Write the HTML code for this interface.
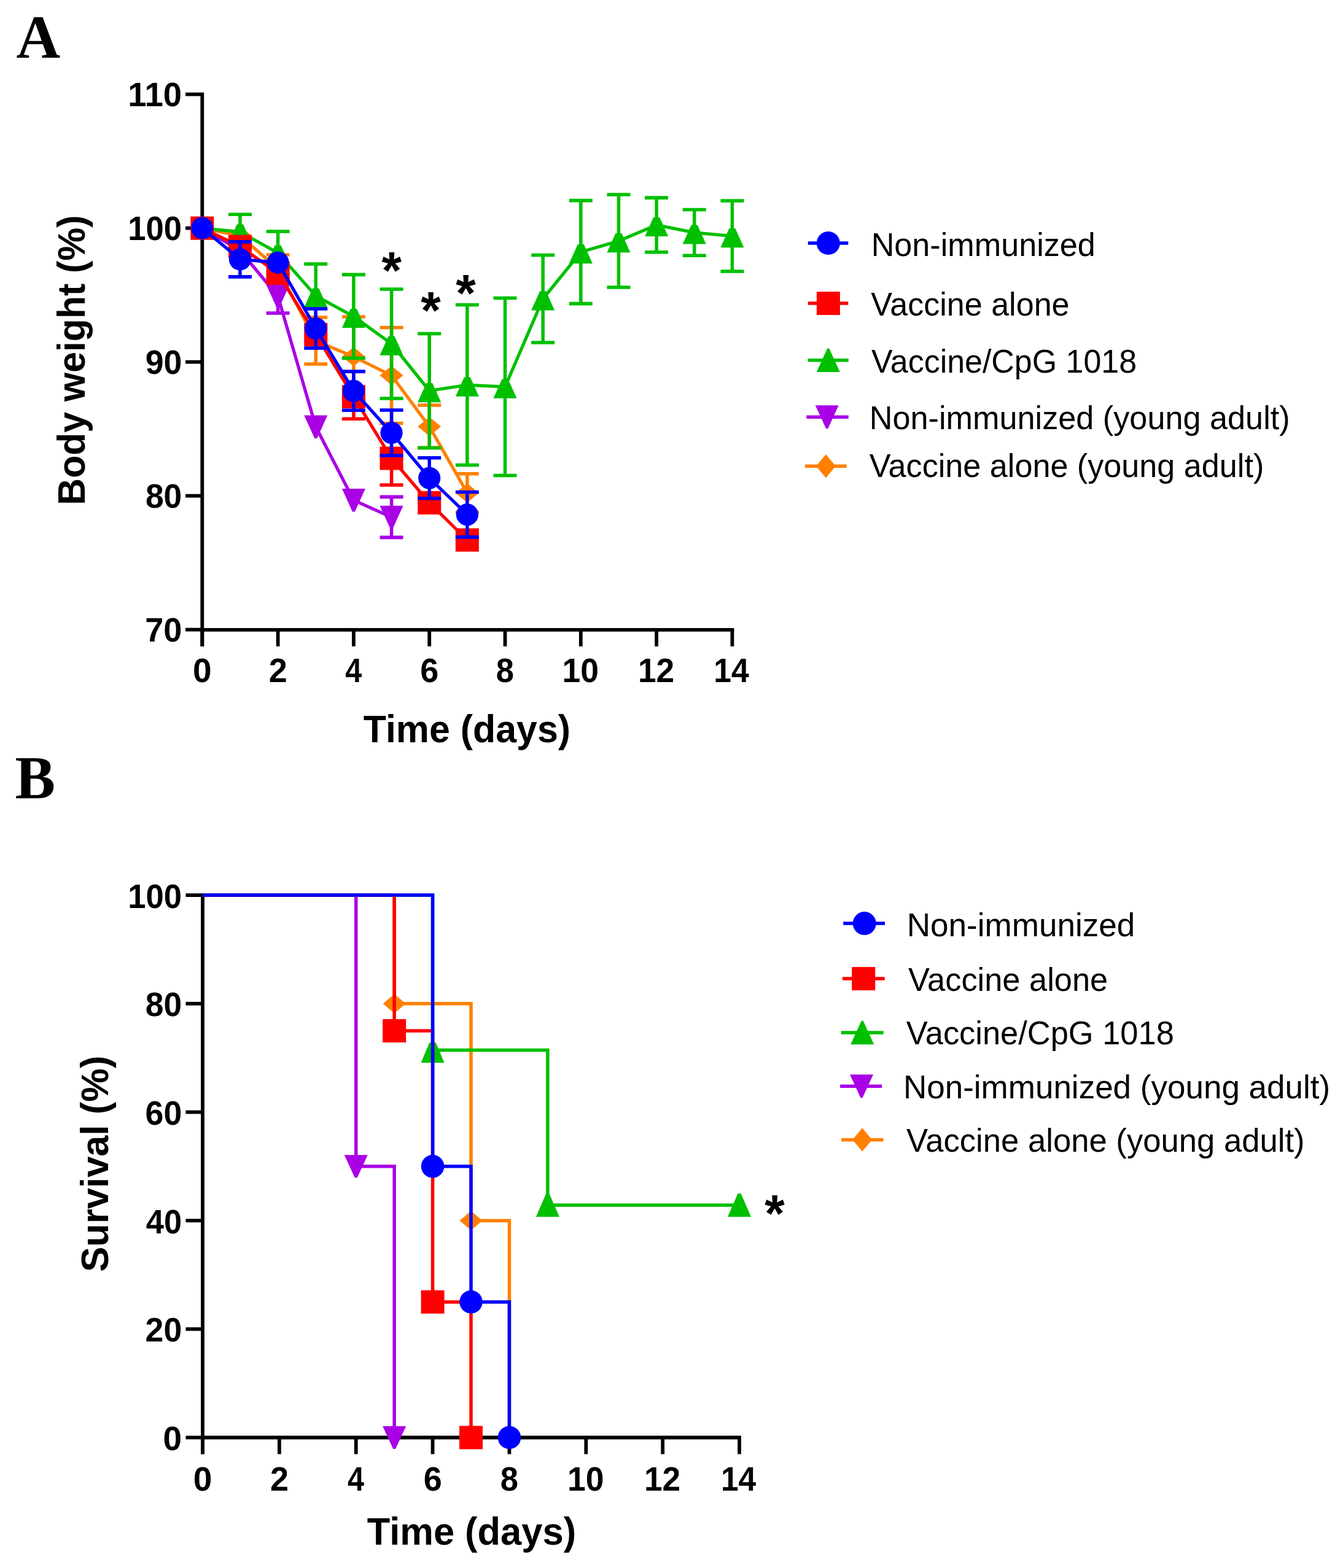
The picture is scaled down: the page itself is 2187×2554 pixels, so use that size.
<!DOCTYPE html>
<html><head><meta charset="utf-8"><title>Figure</title>
<style>html,body{margin:0;padding:0;background:#fff;overflow:hidden;} svg{display:block;}</style>
</head><body>
<svg width="2187" height="2554" viewBox="0 0 2187 2554">
<rect x="0" y="0" width="2187" height="2554" fill="#FFFFFF"/>
<text x="26.51" y="93.60" font-family='"Liberation Serif", "Times New Roman", serif' font-weight="bold" font-size="100" fill="#000" textLength="71.60" lengthAdjust="spacingAndGlyphs">A</text>
<text x="24.48" y="1299.50" font-family='"Liberation Serif", "Times New Roman", serif' font-weight="bold" font-size="100" fill="#000" textLength="65.57" lengthAdjust="spacingAndGlyphs">B</text>
<line x1="329.30" y1="150.70" x2="329.30" y2="1052.80" stroke="#000" stroke-width="5.8" stroke-linecap="butt"/>
<line x1="326.40" y1="1025.80" x2="1195.30" y2="1025.80" stroke="#000" stroke-width="5.8" stroke-linecap="butt"/>
<line x1="302.00" y1="153.60" x2="329.30" y2="153.60" stroke="#000" stroke-width="5.8" stroke-linecap="butt"/>
<line x1="302.00" y1="371.60" x2="329.30" y2="371.60" stroke="#000" stroke-width="5.8" stroke-linecap="butt"/>
<line x1="302.00" y1="589.60" x2="329.30" y2="589.60" stroke="#000" stroke-width="5.8" stroke-linecap="butt"/>
<line x1="302.00" y1="807.60" x2="329.30" y2="807.60" stroke="#000" stroke-width="5.8" stroke-linecap="butt"/>
<line x1="302.00" y1="1025.60" x2="329.30" y2="1025.60" stroke="#000" stroke-width="5.8" stroke-linecap="butt"/>
<line x1="329.30" y1="1025.80" x2="329.30" y2="1052.80" stroke="#000" stroke-width="5.8" stroke-linecap="butt"/>
<line x1="452.60" y1="1025.80" x2="452.60" y2="1052.80" stroke="#000" stroke-width="5.8" stroke-linecap="butt"/>
<line x1="575.90" y1="1025.80" x2="575.90" y2="1052.80" stroke="#000" stroke-width="5.8" stroke-linecap="butt"/>
<line x1="699.20" y1="1025.80" x2="699.20" y2="1052.80" stroke="#000" stroke-width="5.8" stroke-linecap="butt"/>
<line x1="822.50" y1="1025.80" x2="822.50" y2="1052.80" stroke="#000" stroke-width="5.8" stroke-linecap="butt"/>
<line x1="945.80" y1="1025.80" x2="945.80" y2="1052.80" stroke="#000" stroke-width="5.8" stroke-linecap="butt"/>
<line x1="1069.10" y1="1025.80" x2="1069.10" y2="1052.80" stroke="#000" stroke-width="5.8" stroke-linecap="butt"/>
<line x1="1192.40" y1="1025.80" x2="1192.40" y2="1052.80" stroke="#000" stroke-width="5.8" stroke-linecap="butt"/>
<text x="208.16" y="172.73" font-family='"Liberation Sans", Arial, Helvetica, sans-serif' font-weight="bold" font-size="55.5" fill="#000" textLength="87.99" lengthAdjust="spacingAndGlyphs">110</text>
<text x="208.28" y="390.73" font-family='"Liberation Sans", Arial, Helvetica, sans-serif' font-weight="bold" font-size="55.5" fill="#000" textLength="87.85" lengthAdjust="spacingAndGlyphs">100</text>
<text x="236.67" y="608.73" font-family='"Liberation Sans", Arial, Helvetica, sans-serif' font-weight="bold" font-size="55.5" fill="#000" textLength="59.63" lengthAdjust="spacingAndGlyphs">90</text>
<text x="236.92" y="826.73" font-family='"Liberation Sans", Arial, Helvetica, sans-serif' font-weight="bold" font-size="55.5" fill="#000" textLength="59.37" lengthAdjust="spacingAndGlyphs">80</text>
<text x="236.16" y="1044.72" font-family='"Liberation Sans", Arial, Helvetica, sans-serif' font-weight="bold" font-size="55.5" fill="#000" textLength="60.16" lengthAdjust="spacingAndGlyphs">70</text>
<text x="314.07" y="1110.50" font-family='"Liberation Sans", Arial, Helvetica, sans-serif' font-weight="bold" font-size="55.5" fill="#000" textLength="30.57" lengthAdjust="spacingAndGlyphs">0</text>
<text x="437.66" y="1110.50" font-family='"Liberation Sans", Arial, Helvetica, sans-serif' font-weight="bold" font-size="55.5" fill="#000" textLength="30.00" lengthAdjust="spacingAndGlyphs">2</text>
<text x="562.24" y="1110.50" font-family='"Liberation Sans", Arial, Helvetica, sans-serif' font-weight="bold" font-size="55.5" fill="#000" textLength="26.98" lengthAdjust="spacingAndGlyphs">4</text>
<text x="684.26" y="1110.50" font-family='"Liberation Sans", Arial, Helvetica, sans-serif' font-weight="bold" font-size="55.5" fill="#000" textLength="30.00" lengthAdjust="spacingAndGlyphs">6</text>
<text x="807.85" y="1110.50" font-family='"Liberation Sans", Arial, Helvetica, sans-serif' font-weight="bold" font-size="55.5" fill="#000" textLength="29.18" lengthAdjust="spacingAndGlyphs">8</text>
<text x="915.58" y="1110.50" font-family='"Liberation Sans", Arial, Helvetica, sans-serif' font-weight="bold" font-size="55.5" fill="#000" textLength="59.46" lengthAdjust="spacingAndGlyphs">10</text>
<text x="1038.89" y="1110.50" font-family='"Liberation Sans", Arial, Helvetica, sans-serif' font-weight="bold" font-size="55.5" fill="#000" textLength="59.20" lengthAdjust="spacingAndGlyphs">12</text>
<text x="1162.30" y="1110.50" font-family='"Liberation Sans", Arial, Helvetica, sans-serif' font-weight="bold" font-size="55.5" fill="#000" textLength="57.40" lengthAdjust="spacingAndGlyphs">14</text>
<text x="591.87" y="1208.80" font-family='"Liberation Sans", Arial, Helvetica, sans-serif' font-weight="bold" font-size="62.5" fill="#000" textLength="337.23" lengthAdjust="spacingAndGlyphs">Time (days)</text>
<text transform="translate(138.30,822.63) rotate(-90)" x="0" y="0" font-family='"Liberation Sans", Arial, Helvetica, sans-serif' font-weight="bold" font-size="62.5" textLength="472.11" lengthAdjust="spacingAndGlyphs">Body weight (%)</text>
<g>
<line x1="452.60" y1="415.00" x2="452.60" y2="461.00" stroke="#FF8000" stroke-width="5.5" stroke-linecap="butt"/>
<line x1="433.60" y1="415.00" x2="471.60" y2="415.00" stroke="#FF8000" stroke-width="5.6" stroke-linecap="butt"/>
<line x1="433.60" y1="461.00" x2="471.60" y2="461.00" stroke="#FF8000" stroke-width="5.6" stroke-linecap="butt"/>
<line x1="514.25" y1="517.00" x2="514.25" y2="593.00" stroke="#FF8000" stroke-width="5.5" stroke-linecap="butt"/>
<line x1="495.25" y1="517.00" x2="533.25" y2="517.00" stroke="#FF8000" stroke-width="5.6" stroke-linecap="butt"/>
<line x1="495.25" y1="593.00" x2="533.25" y2="593.00" stroke="#FF8000" stroke-width="5.6" stroke-linecap="butt"/>
<line x1="575.90" y1="516.00" x2="575.90" y2="646.00" stroke="#FF8000" stroke-width="5.5" stroke-linecap="butt"/>
<line x1="556.90" y1="516.00" x2="594.90" y2="516.00" stroke="#FF8000" stroke-width="5.6" stroke-linecap="butt"/>
<line x1="556.90" y1="646.00" x2="594.90" y2="646.00" stroke="#FF8000" stroke-width="5.6" stroke-linecap="butt"/>
<line x1="637.55" y1="533.50" x2="637.55" y2="689.50" stroke="#FF8000" stroke-width="5.5" stroke-linecap="butt"/>
<line x1="618.55" y1="533.50" x2="656.55" y2="533.50" stroke="#FF8000" stroke-width="5.6" stroke-linecap="butt"/>
<line x1="618.55" y1="689.50" x2="656.55" y2="689.50" stroke="#FF8000" stroke-width="5.6" stroke-linecap="butt"/>
<line x1="699.20" y1="660.00" x2="699.20" y2="729.40" stroke="#FF8000" stroke-width="5.5" stroke-linecap="butt"/>
<line x1="680.20" y1="660.00" x2="718.20" y2="660.00" stroke="#FF8000" stroke-width="5.6" stroke-linecap="butt"/>
<line x1="680.20" y1="729.40" x2="718.20" y2="729.40" stroke="#FF8000" stroke-width="5.6" stroke-linecap="butt"/>
<line x1="760.85" y1="771.70" x2="760.85" y2="834.30" stroke="#FF8000" stroke-width="5.5" stroke-linecap="butt"/>
<line x1="741.85" y1="771.70" x2="779.85" y2="771.70" stroke="#FF8000" stroke-width="5.6" stroke-linecap="butt"/>
<line x1="741.85" y1="834.30" x2="779.85" y2="834.30" stroke="#FF8000" stroke-width="5.6" stroke-linecap="butt"/>
<polyline points="329.30,371.60 390.95,384.00 452.60,438.00 514.25,555.00 575.90,581.00 637.55,611.50 699.20,694.70 760.85,803.00" fill="none" stroke="#FF8000" stroke-width="5.2" stroke-linejoin="miter" stroke-miterlimit="10"/>
<polygon points="329.30,355.80 348.30,371.60 329.30,387.40 310.30,371.60" fill="#FF8000"/>
<polygon points="390.95,368.20 409.95,384.00 390.95,399.80 371.95,384.00" fill="#FF8000"/>
<polygon points="452.60,422.20 471.60,438.00 452.60,453.80 433.60,438.00" fill="#FF8000"/>
<polygon points="514.25,539.20 533.25,555.00 514.25,570.80 495.25,555.00" fill="#FF8000"/>
<polygon points="575.90,565.20 594.90,581.00 575.90,596.80 556.90,581.00" fill="#FF8000"/>
<polygon points="637.55,595.70 656.55,611.50 637.55,627.30 618.55,611.50" fill="#FF8000"/>
<polygon points="699.20,678.90 718.20,694.70 699.20,710.50 680.20,694.70" fill="#FF8000"/>
<polygon points="760.85,787.20 779.85,803.00 760.85,818.80 741.85,803.00" fill="#FF8000"/>
</g>
<g>
<line x1="452.60" y1="455.00" x2="452.60" y2="510.00" stroke="#AA00E6" stroke-width="5.5" stroke-linecap="butt"/>
<line x1="433.60" y1="455.00" x2="471.60" y2="455.00" stroke="#AA00E6" stroke-width="5.6" stroke-linecap="butt"/>
<line x1="433.60" y1="510.00" x2="471.60" y2="510.00" stroke="#AA00E6" stroke-width="5.6" stroke-linecap="butt"/>
<line x1="637.55" y1="809.40" x2="637.55" y2="875.40" stroke="#AA00E6" stroke-width="5.5" stroke-linecap="butt"/>
<line x1="618.55" y1="809.40" x2="656.55" y2="809.40" stroke="#AA00E6" stroke-width="5.6" stroke-linecap="butt"/>
<line x1="618.55" y1="875.40" x2="656.55" y2="875.40" stroke="#AA00E6" stroke-width="5.6" stroke-linecap="butt"/>
<polyline points="329.30,371.60 390.95,408.00 452.60,482.50 514.25,695.25 575.90,814.80 637.55,842.40" fill="none" stroke="#AA00E6" stroke-width="5.2" stroke-linejoin="miter" stroke-miterlimit="10"/>
<polygon points="310.30,352.90 348.30,352.90 331.30,390.30 327.30,390.30" fill="#AA00E6"/>
<polygon points="371.95,389.30 409.95,389.30 392.95,426.70 388.95,426.70" fill="#AA00E6"/>
<polygon points="433.60,463.80 471.60,463.80 454.60,501.20 450.60,501.20" fill="#AA00E6"/>
<polygon points="495.25,676.55 533.25,676.55 516.25,713.95 512.25,713.95" fill="#AA00E6"/>
<polygon points="556.90,796.10 594.90,796.10 577.90,833.50 573.90,833.50" fill="#AA00E6"/>
<polygon points="618.55,823.70 656.55,823.70 639.55,861.10 635.55,861.10" fill="#AA00E6"/>
</g>
<g>
<line x1="390.95" y1="349.30" x2="390.95" y2="406.30" stroke="#00C000" stroke-width="5.5" stroke-linecap="butt"/>
<line x1="371.95" y1="349.30" x2="409.95" y2="349.30" stroke="#00C000" stroke-width="5.6" stroke-linecap="butt"/>
<line x1="371.95" y1="406.30" x2="409.95" y2="406.30" stroke="#00C000" stroke-width="5.6" stroke-linecap="butt"/>
<line x1="452.60" y1="377.00" x2="452.60" y2="447.00" stroke="#00C000" stroke-width="5.5" stroke-linecap="butt"/>
<line x1="433.60" y1="377.00" x2="471.60" y2="377.00" stroke="#00C000" stroke-width="5.6" stroke-linecap="butt"/>
<line x1="433.60" y1="447.00" x2="471.60" y2="447.00" stroke="#00C000" stroke-width="5.6" stroke-linecap="butt"/>
<line x1="514.25" y1="430.00" x2="514.25" y2="534.00" stroke="#00C000" stroke-width="5.5" stroke-linecap="butt"/>
<line x1="495.25" y1="430.00" x2="533.25" y2="430.00" stroke="#00C000" stroke-width="5.6" stroke-linecap="butt"/>
<line x1="495.25" y1="534.00" x2="533.25" y2="534.00" stroke="#00C000" stroke-width="5.6" stroke-linecap="butt"/>
<line x1="575.90" y1="447.40" x2="575.90" y2="583.40" stroke="#00C000" stroke-width="5.5" stroke-linecap="butt"/>
<line x1="556.90" y1="447.40" x2="594.90" y2="447.40" stroke="#00C000" stroke-width="5.6" stroke-linecap="butt"/>
<line x1="556.90" y1="583.40" x2="594.90" y2="583.40" stroke="#00C000" stroke-width="5.6" stroke-linecap="butt"/>
<line x1="637.55" y1="471.00" x2="637.55" y2="649.00" stroke="#00C000" stroke-width="5.5" stroke-linecap="butt"/>
<line x1="618.55" y1="471.00" x2="656.55" y2="471.00" stroke="#00C000" stroke-width="5.6" stroke-linecap="butt"/>
<line x1="618.55" y1="649.00" x2="656.55" y2="649.00" stroke="#00C000" stroke-width="5.6" stroke-linecap="butt"/>
<line x1="699.20" y1="543.50" x2="699.20" y2="729.50" stroke="#00C000" stroke-width="5.5" stroke-linecap="butt"/>
<line x1="680.20" y1="543.50" x2="718.20" y2="543.50" stroke="#00C000" stroke-width="5.6" stroke-linecap="butt"/>
<line x1="680.20" y1="729.50" x2="718.20" y2="729.50" stroke="#00C000" stroke-width="5.6" stroke-linecap="butt"/>
<line x1="760.85" y1="496.50" x2="760.85" y2="757.50" stroke="#00C000" stroke-width="5.5" stroke-linecap="butt"/>
<line x1="741.85" y1="496.50" x2="779.85" y2="496.50" stroke="#00C000" stroke-width="5.6" stroke-linecap="butt"/>
<line x1="741.85" y1="757.50" x2="779.85" y2="757.50" stroke="#00C000" stroke-width="5.6" stroke-linecap="butt"/>
<line x1="822.50" y1="485.50" x2="822.50" y2="774.50" stroke="#00C000" stroke-width="5.5" stroke-linecap="butt"/>
<line x1="803.50" y1="485.50" x2="841.50" y2="485.50" stroke="#00C000" stroke-width="5.6" stroke-linecap="butt"/>
<line x1="803.50" y1="774.50" x2="841.50" y2="774.50" stroke="#00C000" stroke-width="5.6" stroke-linecap="butt"/>
<line x1="884.15" y1="415.50" x2="884.15" y2="558.00" stroke="#00C000" stroke-width="5.5" stroke-linecap="butt"/>
<line x1="865.15" y1="415.50" x2="903.15" y2="415.50" stroke="#00C000" stroke-width="5.6" stroke-linecap="butt"/>
<line x1="865.15" y1="558.00" x2="903.15" y2="558.00" stroke="#00C000" stroke-width="5.6" stroke-linecap="butt"/>
<line x1="945.80" y1="326.60" x2="945.80" y2="494.60" stroke="#00C000" stroke-width="5.5" stroke-linecap="butt"/>
<line x1="926.80" y1="326.60" x2="964.80" y2="326.60" stroke="#00C000" stroke-width="5.6" stroke-linecap="butt"/>
<line x1="926.80" y1="494.60" x2="964.80" y2="494.60" stroke="#00C000" stroke-width="5.6" stroke-linecap="butt"/>
<line x1="1007.45" y1="317.00" x2="1007.45" y2="468.00" stroke="#00C000" stroke-width="5.5" stroke-linecap="butt"/>
<line x1="988.45" y1="317.00" x2="1026.45" y2="317.00" stroke="#00C000" stroke-width="5.6" stroke-linecap="butt"/>
<line x1="988.45" y1="468.00" x2="1026.45" y2="468.00" stroke="#00C000" stroke-width="5.6" stroke-linecap="butt"/>
<line x1="1069.10" y1="322.10" x2="1069.10" y2="410.70" stroke="#00C000" stroke-width="5.5" stroke-linecap="butt"/>
<line x1="1050.10" y1="322.10" x2="1088.10" y2="322.10" stroke="#00C000" stroke-width="5.6" stroke-linecap="butt"/>
<line x1="1050.10" y1="410.70" x2="1088.10" y2="410.70" stroke="#00C000" stroke-width="5.6" stroke-linecap="butt"/>
<line x1="1130.75" y1="341.50" x2="1130.75" y2="416.30" stroke="#00C000" stroke-width="5.5" stroke-linecap="butt"/>
<line x1="1111.75" y1="341.50" x2="1149.75" y2="341.50" stroke="#00C000" stroke-width="5.6" stroke-linecap="butt"/>
<line x1="1111.75" y1="416.30" x2="1149.75" y2="416.30" stroke="#00C000" stroke-width="5.6" stroke-linecap="butt"/>
<line x1="1192.40" y1="327.00" x2="1192.40" y2="442.00" stroke="#00C000" stroke-width="5.5" stroke-linecap="butt"/>
<line x1="1173.40" y1="327.00" x2="1211.40" y2="327.00" stroke="#00C000" stroke-width="5.6" stroke-linecap="butt"/>
<line x1="1173.40" y1="442.00" x2="1211.40" y2="442.00" stroke="#00C000" stroke-width="5.6" stroke-linecap="butt"/>
<polyline points="329.30,371.60 390.95,377.80 452.60,412.00 514.25,482.00 575.90,515.40 637.55,560.00 699.20,636.50 760.85,627.00 822.50,630.00 884.15,486.75 945.80,410.60 1007.45,392.50 1069.10,366.40 1130.75,378.90 1192.40,384.50" fill="none" stroke="#00C000" stroke-width="5.2" stroke-linejoin="miter" stroke-miterlimit="10"/>
<polygon points="324.30,359.10 334.30,359.10 348.30,390.30 310.30,390.30" fill="#00C000"/>
<polygon points="385.95,365.30 395.95,365.30 409.95,396.50 371.95,396.50" fill="#00C000"/>
<polygon points="447.60,399.50 457.60,399.50 471.60,430.70 433.60,430.70" fill="#00C000"/>
<polygon points="509.25,469.50 519.25,469.50 533.25,500.70 495.25,500.70" fill="#00C000"/>
<polygon points="570.90,502.90 580.90,502.90 594.90,534.10 556.90,534.10" fill="#00C000"/>
<polygon points="632.55,547.50 642.55,547.50 656.55,578.70 618.55,578.70" fill="#00C000"/>
<polygon points="694.20,624.00 704.20,624.00 718.20,655.20 680.20,655.20" fill="#00C000"/>
<polygon points="755.85,614.50 765.85,614.50 779.85,645.70 741.85,645.70" fill="#00C000"/>
<polygon points="817.50,617.50 827.50,617.50 841.50,648.70 803.50,648.70" fill="#00C000"/>
<polygon points="879.15,474.25 889.15,474.25 903.15,505.45 865.15,505.45" fill="#00C000"/>
<polygon points="940.80,398.10 950.80,398.10 964.80,429.30 926.80,429.30" fill="#00C000"/>
<polygon points="1002.45,380.00 1012.45,380.00 1026.45,411.20 988.45,411.20" fill="#00C000"/>
<polygon points="1064.10,353.90 1074.10,353.90 1088.10,385.10 1050.10,385.10" fill="#00C000"/>
<polygon points="1125.75,366.40 1135.75,366.40 1149.75,397.60 1111.75,397.60" fill="#00C000"/>
<polygon points="1187.40,372.00 1197.40,372.00 1211.40,403.20 1173.40,403.20" fill="#00C000"/>
</g>
<g>
<line x1="575.90" y1="646.20" x2="575.90" y2="682.20" stroke="#FF0000" stroke-width="5.5" stroke-linecap="butt"/>
<line x1="556.90" y1="682.20" x2="594.90" y2="682.20" stroke="#FF0000" stroke-width="5.6" stroke-linecap="butt"/>
<line x1="637.55" y1="746.50" x2="637.55" y2="790.00" stroke="#FF0000" stroke-width="5.5" stroke-linecap="butt"/>
<line x1="618.55" y1="790.00" x2="656.55" y2="790.00" stroke="#FF0000" stroke-width="5.6" stroke-linecap="butt"/>
<polyline points="329.30,371.60 390.95,401.60 452.60,444.80 514.25,545.00 575.90,646.20 637.55,746.50 699.20,819.00 760.85,879.50" fill="none" stroke="#FF0000" stroke-width="5.2" stroke-linejoin="miter" stroke-miterlimit="10"/>
<rect x="310.30" y="352.60" width="38" height="38" fill="#FF0000"/>
<rect x="371.95" y="382.60" width="38" height="38" fill="#FF0000"/>
<rect x="433.60" y="425.80" width="38" height="38" fill="#FF0000"/>
<rect x="495.25" y="526.00" width="38" height="38" fill="#FF0000"/>
<rect x="556.90" y="627.20" width="38" height="38" fill="#FF0000"/>
<rect x="618.55" y="727.50" width="38" height="38" fill="#FF0000"/>
<rect x="680.20" y="800.00" width="38" height="38" fill="#FF0000"/>
<rect x="741.85" y="860.50" width="38" height="38" fill="#FF0000"/>
</g>
<g>
<line x1="390.95" y1="393.90" x2="390.95" y2="450.90" stroke="#0000FF" stroke-width="5.5" stroke-linecap="butt"/>
<line x1="371.95" y1="393.90" x2="409.95" y2="393.90" stroke="#0000FF" stroke-width="5.6" stroke-linecap="butt"/>
<line x1="371.95" y1="450.90" x2="409.95" y2="450.90" stroke="#0000FF" stroke-width="5.6" stroke-linecap="butt"/>
<line x1="514.25" y1="503.00" x2="514.25" y2="567.00" stroke="#0000FF" stroke-width="5.5" stroke-linecap="butt"/>
<line x1="495.25" y1="503.00" x2="533.25" y2="503.00" stroke="#0000FF" stroke-width="5.6" stroke-linecap="butt"/>
<line x1="495.25" y1="567.00" x2="533.25" y2="567.00" stroke="#0000FF" stroke-width="5.6" stroke-linecap="butt"/>
<line x1="575.90" y1="605.10" x2="575.90" y2="668.30" stroke="#0000FF" stroke-width="5.5" stroke-linecap="butt"/>
<line x1="556.90" y1="605.10" x2="594.90" y2="605.10" stroke="#0000FF" stroke-width="5.6" stroke-linecap="butt"/>
<line x1="556.90" y1="668.30" x2="594.90" y2="668.30" stroke="#0000FF" stroke-width="5.6" stroke-linecap="butt"/>
<line x1="637.55" y1="668.00" x2="637.55" y2="742.00" stroke="#0000FF" stroke-width="5.5" stroke-linecap="butt"/>
<line x1="618.55" y1="668.00" x2="656.55" y2="668.00" stroke="#0000FF" stroke-width="5.6" stroke-linecap="butt"/>
<line x1="618.55" y1="742.00" x2="656.55" y2="742.00" stroke="#0000FF" stroke-width="5.6" stroke-linecap="butt"/>
<line x1="699.20" y1="745.75" x2="699.20" y2="811.75" stroke="#0000FF" stroke-width="5.5" stroke-linecap="butt"/>
<line x1="680.20" y1="745.75" x2="718.20" y2="745.75" stroke="#0000FF" stroke-width="5.6" stroke-linecap="butt"/>
<line x1="680.20" y1="811.75" x2="718.20" y2="811.75" stroke="#0000FF" stroke-width="5.6" stroke-linecap="butt"/>
<line x1="760.85" y1="801.50" x2="760.85" y2="874.90" stroke="#0000FF" stroke-width="5.5" stroke-linecap="butt"/>
<line x1="741.85" y1="801.50" x2="779.85" y2="801.50" stroke="#0000FF" stroke-width="5.6" stroke-linecap="butt"/>
<line x1="741.85" y1="874.90" x2="779.85" y2="874.90" stroke="#0000FF" stroke-width="5.6" stroke-linecap="butt"/>
<polyline points="329.30,371.60 390.95,422.40 452.60,427.60 514.25,535.00 575.90,636.70 637.55,705.00 699.20,778.75 760.85,838.20" fill="none" stroke="#0000FF" stroke-width="5.2" stroke-linejoin="miter" stroke-miterlimit="10"/>
<circle cx="329.30" cy="371.60" r="18.1" fill="#0000FF"/>
<circle cx="390.95" cy="422.40" r="18.1" fill="#0000FF"/>
<circle cx="452.60" cy="427.60" r="18.1" fill="#0000FF"/>
<circle cx="514.25" cy="535.00" r="18.1" fill="#0000FF"/>
<circle cx="575.90" cy="636.70" r="18.1" fill="#0000FF"/>
<circle cx="637.55" cy="705.00" r="18.1" fill="#0000FF"/>
<circle cx="699.20" cy="778.75" r="18.1" fill="#0000FF"/>
<circle cx="760.85" cy="838.20" r="18.1" fill="#0000FF"/>
</g>
<text x="621.45" y="470.35" font-family='"Liberation Sans", Arial, Helvetica, sans-serif' font-weight="bold" font-size="86.00" textLength="32.45" lengthAdjust="spacingAndGlyphs">*</text>
<text x="685.35" y="535.00" font-family='"Liberation Sans", Arial, Helvetica, sans-serif' font-weight="bold" font-size="86.00" textLength="32.45" lengthAdjust="spacingAndGlyphs">*</text>
<text x="742.35" y="507.35" font-family='"Liberation Sans", Arial, Helvetica, sans-serif' font-weight="bold" font-size="86.00" textLength="32.45" lengthAdjust="spacingAndGlyphs">*</text>
<line x1="1315.80" y1="396.00" x2="1381.30" y2="396.00" stroke="#0000FF" stroke-width="5.5" stroke-linecap="butt"/>
<circle cx="1348.80" cy="396.00" r="19" fill="#0000FF"/>
<text x="1418.65" y="416.50" font-family='"Liberation Sans", Arial, Helvetica, sans-serif' font-weight="normal" font-size="54" fill="#000" textLength="365.25" lengthAdjust="spacingAndGlyphs">Non-immunized</text>
<line x1="1315.80" y1="494.10" x2="1381.30" y2="494.10" stroke="#FF0000" stroke-width="5.5" stroke-linecap="butt"/>
<rect x="1329.90" y="475.10" width="38" height="38" fill="#FF0000"/>
<text x="1418.36" y="514.00" font-family='"Liberation Sans", Arial, Helvetica, sans-serif' font-weight="normal" font-size="54" fill="#000" textLength="323.19" lengthAdjust="spacingAndGlyphs">Vaccine alone</text>
<line x1="1315.60" y1="586.70" x2="1381.70" y2="586.70" stroke="#00C000" stroke-width="5.5" stroke-linecap="butt"/>
<polygon points="1347.30,567.50 1350.30,567.50 1367.80,605.90 1329.80,605.90" fill="#00C000"/>
<text x="1419.06" y="606.90" font-family='"Liberation Sans", Arial, Helvetica, sans-serif' font-weight="normal" font-size="54" fill="#000" textLength="432.02" lengthAdjust="spacingAndGlyphs">Vaccine/CpG 1018</text>
<line x1="1313.30" y1="679.20" x2="1381.70" y2="679.20" stroke="#AA00E6" stroke-width="5.5" stroke-linecap="butt"/>
<polygon points="1327.70,660.20 1365.70,660.20 1348.20,698.20 1345.20,698.20" fill="#AA00E6"/>
<text x="1415.75" y="698.70" font-family='"Liberation Sans", Arial, Helvetica, sans-serif' font-weight="normal" font-size="54" fill="#000" textLength="684.87" lengthAdjust="spacingAndGlyphs">Non-immunized (young adult)</text>
<line x1="1311.00" y1="759.20" x2="1378.80" y2="759.20" stroke="#FF8000" stroke-width="5.5" stroke-linecap="butt"/>
<polygon points="1344.90,740.00 1360.90,759.20 1344.90,778.40 1328.90,759.20" fill="#FF8000"/>
<text x="1415.66" y="777.10" font-family='"Liberation Sans", Arial, Helvetica, sans-serif' font-weight="normal" font-size="54" fill="#000" textLength="642.60" lengthAdjust="spacingAndGlyphs">Vaccine alone (young adult)</text>
<line x1="330.00" y1="1455.20" x2="330.00" y2="2368.50" stroke="#000" stroke-width="5.8" stroke-linecap="butt"/>
<line x1="327.10" y1="2341.50" x2="1206.92" y2="2341.50" stroke="#000" stroke-width="5.8" stroke-linecap="butt"/>
<line x1="302.50" y1="2341.50" x2="330.00" y2="2341.50" stroke="#000" stroke-width="5.8" stroke-linecap="butt"/>
<line x1="302.50" y1="2164.82" x2="330.00" y2="2164.82" stroke="#000" stroke-width="5.8" stroke-linecap="butt"/>
<line x1="302.50" y1="1988.14" x2="330.00" y2="1988.14" stroke="#000" stroke-width="5.8" stroke-linecap="butt"/>
<line x1="302.50" y1="1811.46" x2="330.00" y2="1811.46" stroke="#000" stroke-width="5.8" stroke-linecap="butt"/>
<line x1="302.50" y1="1634.78" x2="330.00" y2="1634.78" stroke="#000" stroke-width="5.8" stroke-linecap="butt"/>
<line x1="302.50" y1="1458.10" x2="330.00" y2="1458.10" stroke="#000" stroke-width="5.8" stroke-linecap="butt"/>
<line x1="330.00" y1="2341.50" x2="330.00" y2="2368.50" stroke="#000" stroke-width="5.8" stroke-linecap="butt"/>
<line x1="454.86" y1="2341.50" x2="454.86" y2="2368.50" stroke="#000" stroke-width="5.8" stroke-linecap="butt"/>
<line x1="579.72" y1="2341.50" x2="579.72" y2="2368.50" stroke="#000" stroke-width="5.8" stroke-linecap="butt"/>
<line x1="704.58" y1="2341.50" x2="704.58" y2="2368.50" stroke="#000" stroke-width="5.8" stroke-linecap="butt"/>
<line x1="829.44" y1="2341.50" x2="829.44" y2="2368.50" stroke="#000" stroke-width="5.8" stroke-linecap="butt"/>
<line x1="954.30" y1="2341.50" x2="954.30" y2="2368.50" stroke="#000" stroke-width="5.8" stroke-linecap="butt"/>
<line x1="1079.16" y1="2341.50" x2="1079.16" y2="2368.50" stroke="#000" stroke-width="5.8" stroke-linecap="butt"/>
<line x1="1204.02" y1="2341.50" x2="1204.02" y2="2368.50" stroke="#000" stroke-width="5.8" stroke-linecap="butt"/>
<text x="265.57" y="2362.12" font-family='"Liberation Sans", Arial, Helvetica, sans-serif' font-weight="bold" font-size="55.5" fill="#000" textLength="30.57" lengthAdjust="spacingAndGlyphs">0</text>
<text x="236.57" y="2185.45" font-family='"Liberation Sans", Arial, Helvetica, sans-serif' font-weight="bold" font-size="55.5" fill="#000" textLength="59.63" lengthAdjust="spacingAndGlyphs">20</text>
<text x="237.79" y="2008.76" font-family='"Liberation Sans", Arial, Helvetica, sans-serif' font-weight="bold" font-size="55.5" fill="#000" textLength="58.36" lengthAdjust="spacingAndGlyphs">40</text>
<text x="236.57" y="1832.09" font-family='"Liberation Sans", Arial, Helvetica, sans-serif' font-weight="bold" font-size="55.5" fill="#000" textLength="59.63" lengthAdjust="spacingAndGlyphs">60</text>
<text x="236.82" y="1655.40" font-family='"Liberation Sans", Arial, Helvetica, sans-serif' font-weight="bold" font-size="55.5" fill="#000" textLength="59.37" lengthAdjust="spacingAndGlyphs">80</text>
<text x="208.18" y="1478.72" font-family='"Liberation Sans", Arial, Helvetica, sans-serif' font-weight="bold" font-size="55.5" fill="#000" textLength="87.85" lengthAdjust="spacingAndGlyphs">100</text>
<text x="314.77" y="2427.80" font-family='"Liberation Sans", Arial, Helvetica, sans-serif' font-weight="bold" font-size="55.5" fill="#000" textLength="30.57" lengthAdjust="spacingAndGlyphs">0</text>
<text x="439.92" y="2427.80" font-family='"Liberation Sans", Arial, Helvetica, sans-serif' font-weight="bold" font-size="55.5" fill="#000" textLength="30.00" lengthAdjust="spacingAndGlyphs">2</text>
<text x="566.06" y="2427.80" font-family='"Liberation Sans", Arial, Helvetica, sans-serif' font-weight="bold" font-size="55.5" fill="#000" textLength="26.98" lengthAdjust="spacingAndGlyphs">4</text>
<text x="689.64" y="2427.80" font-family='"Liberation Sans", Arial, Helvetica, sans-serif' font-weight="bold" font-size="55.5" fill="#000" textLength="30.00" lengthAdjust="spacingAndGlyphs">6</text>
<text x="814.79" y="2427.80" font-family='"Liberation Sans", Arial, Helvetica, sans-serif' font-weight="bold" font-size="55.5" fill="#000" textLength="29.18" lengthAdjust="spacingAndGlyphs">8</text>
<text x="924.08" y="2427.80" font-family='"Liberation Sans", Arial, Helvetica, sans-serif' font-weight="bold" font-size="55.5" fill="#000" textLength="59.46" lengthAdjust="spacingAndGlyphs">10</text>
<text x="1048.95" y="2427.80" font-family='"Liberation Sans", Arial, Helvetica, sans-serif' font-weight="bold" font-size="55.5" fill="#000" textLength="59.20" lengthAdjust="spacingAndGlyphs">12</text>
<text x="1173.92" y="2427.80" font-family='"Liberation Sans", Arial, Helvetica, sans-serif' font-weight="bold" font-size="55.5" fill="#000" textLength="57.40" lengthAdjust="spacingAndGlyphs">14</text>
<text x="597.76" y="2515.50" font-family='"Liberation Sans", Arial, Helvetica, sans-serif' font-weight="bold" font-size="62.5" fill="#000" textLength="340.36" lengthAdjust="spacingAndGlyphs">Time (days)</text>
<text transform="translate(176.00,2071.72) rotate(-90)" x="0" y="0" font-family='"Liberation Sans", Arial, Helvetica, sans-serif' font-weight="bold" font-size="62.5" textLength="352.18" lengthAdjust="spacingAndGlyphs">Survival (%)</text>
<polyline points="330.00,1458.10 642.15,1458.10 642.15,1634.78 767.01,1634.78 767.01,1988.14 829.44,1988.14 829.44,2341.50" fill="none" stroke="#FF8000" stroke-width="5.5" stroke-linejoin="miter" stroke-miterlimit="10"/>
<polygon points="642.15,1618.98 660.65,1634.78 642.15,1650.58 623.65,1634.78" fill="#FF8000"/>
<polygon points="767.01,1972.34 785.51,1988.14 767.01,2003.94 748.51,1988.14" fill="#FF8000"/>
<polyline points="330.00,1458.10 579.72,1458.10 579.72,1899.80 642.15,1899.80 642.15,2341.50" fill="none" stroke="#AA00E6" stroke-width="5.5" stroke-linejoin="miter" stroke-miterlimit="10"/>
<polygon points="560.72,1881.30 598.72,1881.30 581.72,1918.30 577.72,1918.30" fill="#AA00E6"/>
<polygon points="623.15,2323.00 661.15,2323.00 644.15,2360.00 640.15,2360.00" fill="#AA00E6"/>
<polyline points="330.00,1458.10 704.58,1458.10 704.58,1710.50 891.87,1710.50 891.87,1962.90 1204.02,1962.90" fill="none" stroke="#00C000" stroke-width="5.5" stroke-linejoin="miter" stroke-miterlimit="10"/>
<polygon points="699.38,1698.20 709.78,1698.20 723.58,1731.00 685.58,1731.00" fill="#00C000"/>
<polygon points="889.37,1943.90 894.37,1943.90 910.87,1981.90 872.87,1981.90" fill="#00C000"/>
<polygon points="1201.52,1943.90 1206.52,1943.90 1223.02,1981.90 1185.02,1981.90" fill="#00C000"/>
<polyline points="330.00,1458.10 642.15,1458.10 642.15,1678.95 704.58,1678.95 704.58,2120.65 767.01,2120.65 767.01,2341.50" fill="none" stroke="#FF0000" stroke-width="5.5" stroke-linejoin="miter" stroke-miterlimit="10"/>
<rect x="623.15" y="1659.95" width="38" height="38" fill="#FF0000"/>
<rect x="685.58" y="2101.65" width="38" height="38" fill="#FF0000"/>
<rect x="748.01" y="2322.50" width="38" height="38" fill="#FF0000"/>
<polyline points="330.00,1458.10 704.58,1458.10 704.58,1899.80 767.01,1899.80 767.01,2120.65 829.44,2120.65 829.44,2341.50" fill="none" stroke="#0000FF" stroke-width="5.5" stroke-linejoin="miter" stroke-miterlimit="10"/>
<circle cx="704.58" cy="1899.80" r="18.8" fill="#0000FF"/>
<circle cx="767.01" cy="2120.65" r="18.8" fill="#0000FF"/>
<circle cx="829.44" cy="2341.50" r="18.8" fill="#0000FF"/>
<text x="1245.25" y="2006.25" font-family='"Liberation Sans", Arial, Helvetica, sans-serif' font-weight="bold" font-size="86.00" textLength="32.45" lengthAdjust="spacingAndGlyphs">*</text>
<line x1="1373.20" y1="1504.10" x2="1441.10" y2="1504.10" stroke="#0000FF" stroke-width="5.5" stroke-linecap="butt"/>
<circle cx="1407.70" cy="1504.10" r="19" fill="#0000FF"/>
<text x="1476.68" y="1524.80" font-family='"Liberation Sans", Arial, Helvetica, sans-serif' font-weight="normal" font-size="54" fill="#000" textLength="371.69" lengthAdjust="spacingAndGlyphs">Non-immunized</text>
<line x1="1371.80" y1="1594.10" x2="1440.70" y2="1594.10" stroke="#FF0000" stroke-width="5.5" stroke-linecap="butt"/>
<rect x="1387.20" y="1575.10" width="38" height="38" fill="#FF0000"/>
<text x="1479.06" y="1614.30" font-family='"Liberation Sans", Arial, Helvetica, sans-serif' font-weight="normal" font-size="54" fill="#000" textLength="325.10" lengthAdjust="spacingAndGlyphs">Vaccine alone</text>
<line x1="1369.70" y1="1682.00" x2="1438.70" y2="1682.00" stroke="#00C000" stroke-width="5.5" stroke-linecap="butt"/>
<polygon points="1402.70,1662.80 1405.70,1662.80 1423.20,1701.20 1385.20,1701.20" fill="#00C000"/>
<text x="1475.66" y="1701.10" font-family='"Liberation Sans", Arial, Helvetica, sans-serif' font-weight="normal" font-size="54" fill="#000" textLength="436.14" lengthAdjust="spacingAndGlyphs">Vaccine/CpG 1018</text>
<line x1="1368.10" y1="1769.20" x2="1436.10" y2="1769.20" stroke="#AA00E6" stroke-width="5.5" stroke-linecap="butt"/>
<polygon points="1384.00,1750.20 1422.00,1750.20 1404.50,1788.20 1401.50,1788.20" fill="#AA00E6"/>
<text x="1470.98" y="1789.00" font-family='"Liberation Sans", Arial, Helvetica, sans-serif' font-weight="normal" font-size="54" fill="#000" textLength="695.18" lengthAdjust="spacingAndGlyphs">Non-immunized (young adult)</text>
<line x1="1370.10" y1="1856.40" x2="1438.70" y2="1856.40" stroke="#FF8000" stroke-width="5.5" stroke-linecap="butt"/>
<polygon points="1404.20,1837.20 1420.20,1856.40 1404.20,1875.60 1388.20,1856.40" fill="#FF8000"/>
<text x="1475.96" y="1875.80" font-family='"Liberation Sans", Arial, Helvetica, sans-serif' font-weight="normal" font-size="54" fill="#000" textLength="648.64" lengthAdjust="spacingAndGlyphs">Vaccine alone (young adult)</text>
</svg>
</body></html>
